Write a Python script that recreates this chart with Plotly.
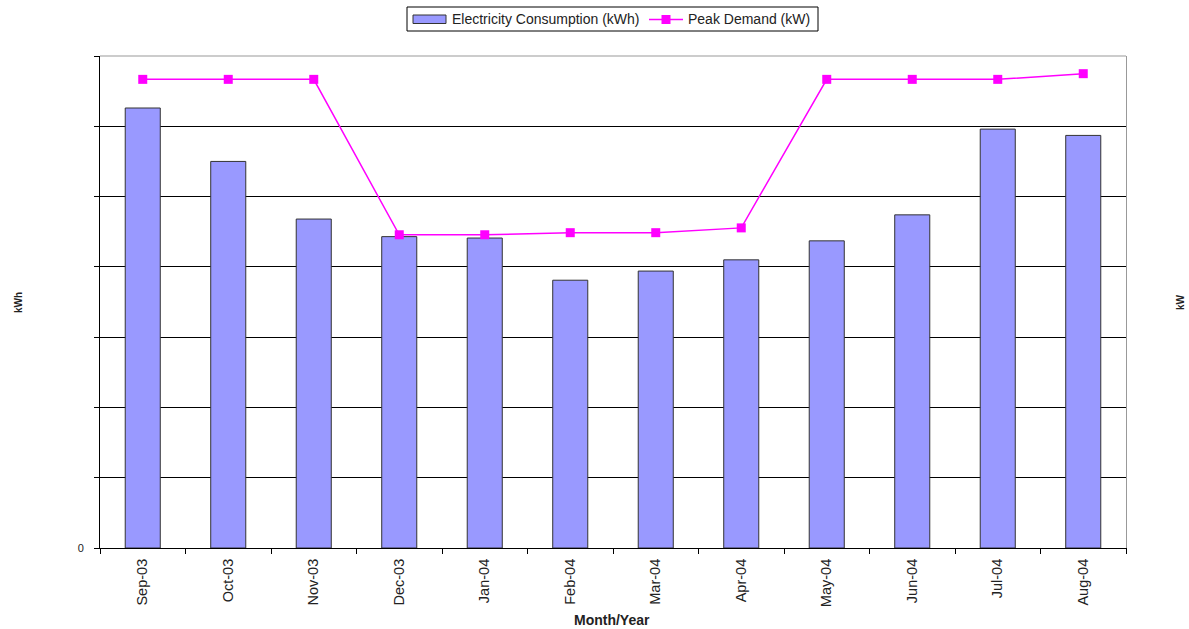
import plotly.graph_objects as go

# Monthly data, Sep 2003 – Aug 2004
months = ["Sep-03", "Oct-03", "Nov-03", "Dec-03", "Jan-04", "Feb-04",
          "Mar-04", "Apr-04", "May-04", "Jun-04", "Jul-04", "Aug-04"]
consumption_kwh = [62600, 55000, 46800, 44300, 44100, 38100,
                   39400, 41000, 43700, 47400, 59600, 58700]
peak_demand_kw = [156.5, 156.5, 156.5, 104.6, 104.6, 105.3,
                  105.3, 106.9, 156.5, 156.5, 156.5, 158.4]

kwh_ticks = [0, 10000, 20000, 30000, 40000, 50000, 60000, 70000]
kwh_ticktext = ["0", "", "", "", "", "", "", ""]

series_names = ["Electricity Consumption (kWh)", "Peak Demand (kW)"]

FONT = "Arial, Liberation Sans, sans-serif"
TEXT = "#222222"
BAR_FILL = "#9999FF"
BAR_EDGE = "#333333"
LINE_COL = "#FF00FF"

W, H = 1189, 629
ML, MR, MT, MB = 100, 63, 56, 81
PW, PH = W - ML - MR, H - MT - MB


def px_x(x):
    # pixel column -> paper x
    return (x - ML) / PW


def px_y(y):
    # pixel row -> paper y
    return (H - MB - y) / PH


fig = go.Figure()

fig.add_trace(go.Bar(
    x=months, y=consumption_kwh,
    name=series_names[0],
    marker=dict(color=BAR_FILL, line=dict(color=BAR_EDGE, width=1)),
    yaxis="y",
))

fig.add_trace(go.Scatter(
    x=months, y=peak_demand_kw,
    name=series_names[1],
    mode="lines+markers",
    line=dict(color=LINE_COL, width=1.5),
    marker=dict(symbol="square", size=9, color=LINE_COL),
    yaxis="y2",
))

# Boxed legend above the plot: wide bar swatch, line-with-marker swatch
legend_shapes = [
    dict(type="rect", xref="paper", yref="paper",
         x0=px_x(407), x1=px_x(818), y0=px_y(31), y1=px_y(7),
         line=dict(color="#000000", width=1), fillcolor="white"),
    dict(type="rect", xref="paper", yref="paper",
         x0=px_x(413), x1=px_x(446), y0=px_y(23.5), y1=px_y(15),
         line=dict(color=BAR_EDGE, width=1), fillcolor=BAR_FILL),
    dict(type="line", xref="paper", yref="paper",
         x0=px_x(649), x1=px_x(683), y0=px_y(19.5), y1=px_y(19.5),
         line=dict(color=LINE_COL, width=1.5)),
    dict(type="rect", xref="paper", yref="paper",
         x0=px_x(661.5), x1=px_x(670.5), y0=px_y(24), y1=px_y(15),
         line=dict(color=LINE_COL, width=0), fillcolor=LINE_COL),
]

fig.update_layout(
    width=W, height=H,
    margin=dict(l=ML, r=MR, t=MT, b=MB, autoexpand=False),
    paper_bgcolor="white", plot_bgcolor="white",
    font=dict(family=FONT, color=TEXT),
    bargap=0.59,
    showlegend=False,
    xaxis=dict(
        type="category", tickson="boundaries", range=[-0.5, 11.5],
        ticks="outside", ticklen=5, tickcolor="#000000",
        showline=True, linecolor="#000000", linewidth=1,
        showgrid=False, tickangle=-90,
        tickfont=dict(size=14.5, family=FONT, color=TEXT),
        ticklabelstandoff=4,
    ),
    yaxis=dict(
        range=[0, 70000], tickvals=kwh_ticks, ticktext=kwh_ticktext,
        ticks="outside", ticklen=5, tickcolor="#000000",
        showline=True, linecolor="#000000", linewidth=1,
        showgrid=True, gridcolor="#000000", gridwidth=1,
        zeroline=False,
        tickfont=dict(size=11, family=FONT, color=TEXT),
        ticklabelstandoff=8,
    ),
    yaxis2=dict(
        overlaying="y", side="right", range=[0, 164.3],
        showticklabels=False, ticks="", showgrid=False, zeroline=False,
        showline=True, linecolor="#999999", linewidth=1,
    ),
    shapes=[
        dict(type="line", xref="paper", yref="paper", x0=0, x1=1, y0=1, y1=1,
             line=dict(color="#999999", width=1)),
    ] + legend_shapes,
    annotations=[
        dict(text="<b>kWh</b>", xref="paper", yref="paper",
             x=px_x(18), y=px_y(303), xanchor="center", yanchor="middle",
             showarrow=False, textangle=-90,
             font=dict(size=10, family=FONT, color=TEXT)),
        dict(text="<b>kW</b>", xref="paper", yref="paper",
             x=px_x(1180), y=px_y(302), xanchor="center", yanchor="middle",
             showarrow=False, textangle=-90,
             font=dict(size=10, family=FONT, color=TEXT)),
        dict(text="<b>Month/Year</b>", xref="paper", yref="paper",
             x=px_x(612), y=px_y(620), xanchor="center", yanchor="middle",
             showarrow=False,
             font=dict(size=14, family=FONT, color=TEXT)),
        dict(text=series_names[0], xref="paper", yref="paper",
             x=px_x(450), y=px_y(19.5), xanchor="left", yanchor="middle",
             showarrow=False,
             font=dict(size=14, family=FONT, color=TEXT)),
        dict(text=series_names[1], xref="paper", yref="paper",
             x=px_x(686), y=px_y(19.5), xanchor="left", yanchor="middle",
             showarrow=False,
             font=dict(size=14, family=FONT, color=TEXT)),
    ],
)

fig.write_html("out.html")
